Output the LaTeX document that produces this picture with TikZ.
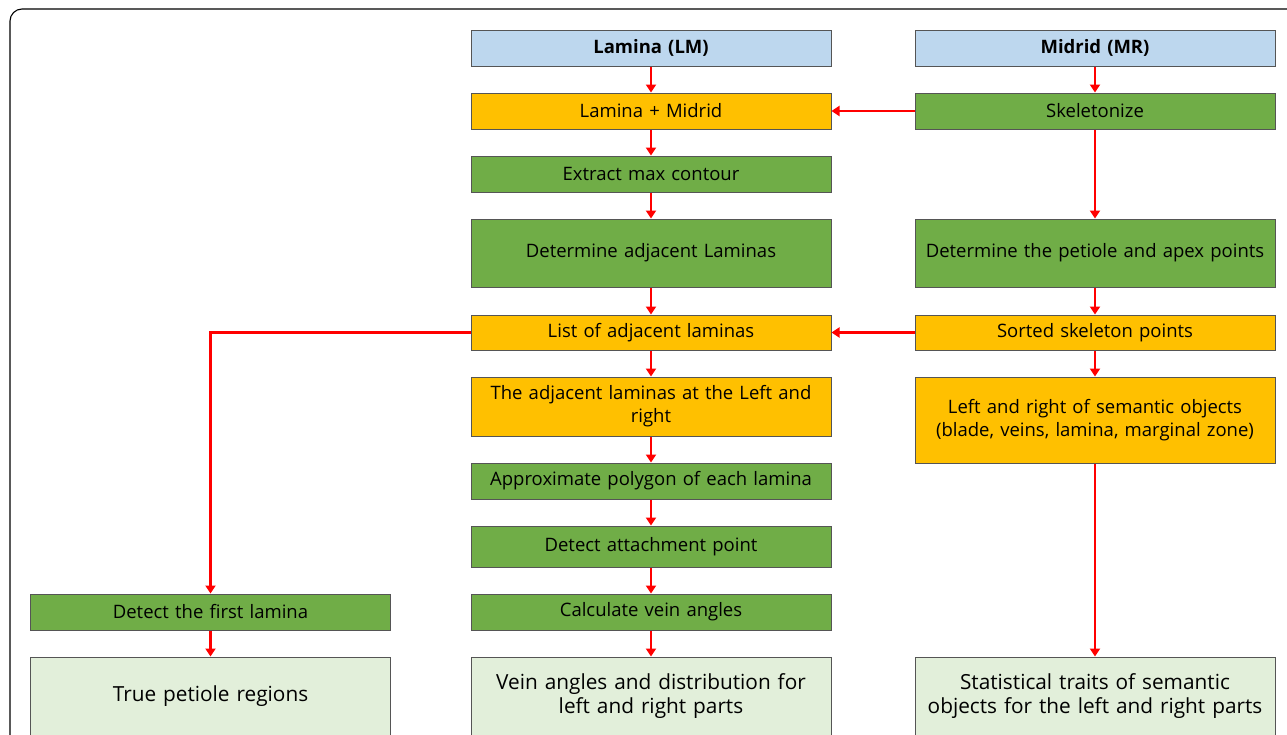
\documentclass[tikz,border=0pt]{standalone}
\usepackage{fontspec}
\setmainfont{Open Sans}
\usetikzlibrary{arrows.meta}
\definecolor{cblue}{HTML}{BDD7EE}
\definecolor{corange}{HTML}{FFC000}
\definecolor{cgreen}{HTML}{70AD47}
\definecolor{clight}{HTML}{E2EFDA}
\definecolor{cborder}{HTML}{555555}
\tikzset{
  box/.style={draw=cborder, line width=1pt, minimum width=360pt, inner sep=2pt, align=center, font=\fontsize{18.5}{23}\selectfont, text width=354pt},
  big/.style={box, font=\fontsize{20.8}{24.5}\selectfont},
  arr/.style={draw=red, line width=2.4pt, -{Triangle[length=8pt,width=10pt]}},
}
\begin{document}
\begin{tikzpicture}[x=1pt,y=-1pt]
\useasboundingbox (0,0) rectangle (1287,734);
\clip (0,0) rectangle (1287,734);
% frame
\draw[line width=1.1pt, rounded corners=12pt] (10,740) -- (10,9) -- (1295,9);
% middle column
\node[box, fill=cblue, minimum height=36pt] (lm) at (651,48) {\textbf{Lamina (LM)}};
\node[box, fill=corange, minimum height=36pt] (lmmr) at (651,111) {Lamina + Midrid};
\node[box, fill=cgreen, minimum height=36pt] (ext) at (651,174) {Extract max contour};
\node[box, fill=cgreen, minimum height=68pt] (det) at (651,253) {Determine adjacent Laminas};
\node[box, fill=corange, minimum height=35pt] (list) at (651,332.5) {List of adjacent laminas};
\node[box, fill=corange, minimum height=59pt] (adj) at (651,406.5) {The adjacent laminas at the Left and\\right};
\node[box, fill=cgreen, minimum height=36pt] (poly) at (651,481) {Approximate polygon of each lamina};
\node[box, fill=cgreen, minimum height=41pt] (att) at (651,546.5) {Detect attachment point};
\node[box, fill=cgreen, minimum height=36pt] (calc) at (651,612) {Calculate vein angles};
\node[big, fill=clight, minimum height=78pt] (vein) at (651,696) {Vein angles and distribution for\\left and right parts};
% right column
\node[box, fill=cblue, minimum height=36pt] (mr) at (1095,48) {\textbf{Midrid (MR)}};
\node[box, fill=cgreen, minimum height=36pt] (skel) at (1095,111) {Skeletonize};
\node[box, fill=cgreen, minimum height=68pt] (pet) at (1095,253) {Determine the petiole and apex points};
\node[box, fill=corange, minimum height=35pt] (sort) at (1095,332.5) {Sorted skeleton points};
\node[box, fill=corange, minimum height=86pt] (sem) at (1095,420) {Left and right of semantic objects\\(blade, veins, lamina, marginal zone)};
\node[big, fill=clight, minimum height=78pt] (stat) at (1095,696) {Statistical traits of semantic\\objects for the left and right parts};
% left column
\node[box, fill=cgreen, minimum height=36pt] (first) at (210.5,612) {Detect the first lamina};
\node[big, fill=clight, minimum height=78pt] (true) at (210.5,696) {True petiole regions};
% arrows
\draw[arr] (lm) -- (lmmr);
\draw[arr] (lmmr) -- (ext);
\draw[arr] (ext) -- (det);
\draw[arr] (det) -- (list);
\draw[arr] (list) -- (adj);
\draw[arr] (adj) -- (poly);
\draw[arr] (poly) -- (att);
\draw[arr] (att) -- (calc);
\draw[arr] (calc) -- (vein);
\draw[arr] (mr) -- (skel);
\draw[arr] (skel) -- (lmmr);
\draw[arr] (skel) -- (pet);
\draw[arr] (pet) -- (sort);
\draw[arr] (sort) -- (list);
\draw[arr] (sort) -- (sem);
\draw[arr] (sem) -- (stat);
\draw[arr] (list.west) -| (first.north);
\draw[arr] (first) -- (true);
\end{tikzpicture}
\end{document}
